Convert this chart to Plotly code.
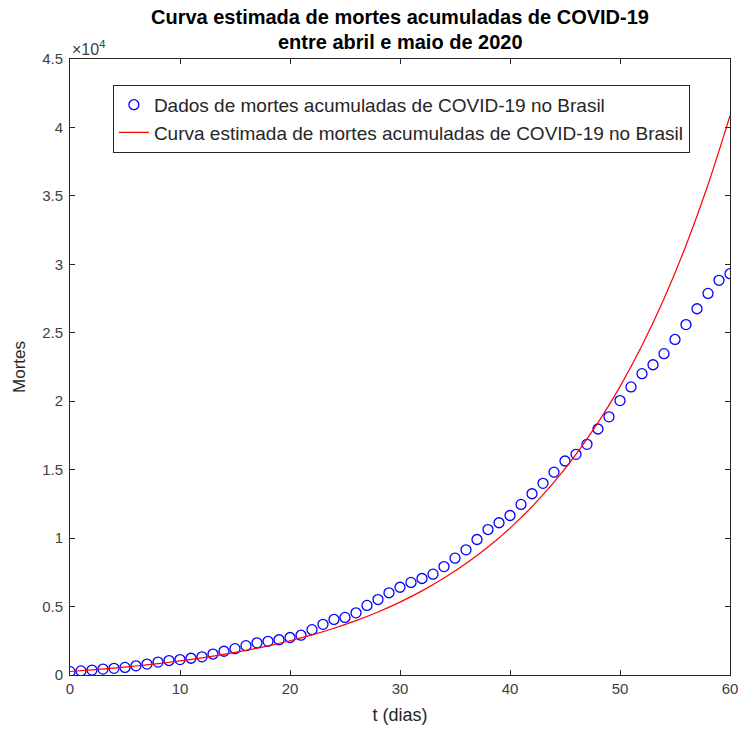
import plotly.graph_objects as go

# Accumulated COVID-19 deaths in Brazil, day 0 = 1 April 2020
dias = list(range(0, 61))
mortes = [
    241, 299, 359, 431, 486, 553, 667, 800, 941, 1056,
    1124, 1223, 1328, 1532, 1736, 1924, 2141, 2347, 2462, 2575,
    2741, 2906, 3313, 3704, 4057, 4205, 4543, 5083, 5513, 6006,
    6412, 6761, 7051, 7367, 7921, 8536, 9146, 9897, 10627, 11123,
    11653, 12461, 13240, 13999, 14817, 15633, 16118, 16853, 17971, 18859,
    20047, 21048, 22013, 22666, 23473, 24512, 25598, 26754, 27878, 28834,
    29314,
]

# Estimated curve, sampled every 2 days
dias_curva = list(range(0, 61, 2))
mortes_curva = [
    255, 372, 505, 657, 830, 1026, 1250, 1505, 1795, 2126,
    2502, 2930, 3418, 3973, 4606, 5325, 6145, 7078, 8141, 9351,
    10729, 12297, 14083, 16117, 18432, 21068, 24070, 27487, 31379, 35809,
    40854,
]

x_ticks = [0, 10, 20, 30, 40, 50, 60]
y_ticks = [0, 5000, 10000, 15000, 20000, 25000, 30000, 35000, 40000, 45000]
y_tick_text = ["0", "0.5", "1", "1.5", "2", "2.5", "3", "3.5", "4", "4.5"]

FONT = "Liberation Sans, Arial, Helvetica, sans-serif"
AXIS_COLOR = "#262626"

fig = go.Figure()

fig.add_trace(go.Scatter(
    x=dias, y=mortes, mode="markers",
    name="Dados de mortes acumuladas de COVID-19 no Brasil",
    marker=dict(symbol="circle-open", size=10, color="#0000FF",
                line=dict(width=1.3, color="#0000FF")),
))
fig.add_trace(go.Scatter(
    x=dias_curva, y=mortes_curva, mode="lines",
    name="Curva estimada de mortes acumuladas de COVID-19 no Brasil",
    line=dict(color="#FF0000", width=1.2, shape="spline"),
))

axis_common = dict(
    showline=True, linecolor=AXIS_COLOR, linewidth=1, mirror="allticks",
    ticks="inside", ticklen=5, tickwidth=1, tickcolor=AXIS_COLOR,
    showgrid=False, zeroline=False, automargin=False,
    ticklabeloverflow="allow",
    tickfont=dict(family=FONT, size=15, color="#404040"),
)

fig.update_xaxes(
    range=[0, 60], tickvals=x_ticks,
    title=dict(text="t (dias)", font=dict(family=FONT, size=18, color=AXIS_COLOR), standoff=12),
    **axis_common,
)
fig.update_yaxes(
    range=[0, 45000], tickvals=y_ticks, ticktext=y_tick_text,
    ticklabelstandoff=3,
    title=dict(text="Mortes", font=dict(family=FONT, size=17, color=AXIS_COLOR), standoff=12),
    **axis_common,
)

fig.update_layout(
    width=738, height=731,
    margin=dict(l=70, r=8, t=59, b=56),
    paper_bgcolor="white", plot_bgcolor="white",
    font=dict(family=FONT, color=AXIS_COLOR),
    showlegend=True,
    legend=dict(
        x=0.065, y=0.958, xanchor="left", yanchor="top",
        bgcolor="white", bordercolor=AXIS_COLOR, borderwidth=1,
        font=dict(family=FONT, size=19, color=AXIS_COLOR),
        itemwidth=30,
    ),
    annotations=[
        dict(text="<b>Curva estimada de mortes acumuladas de COVID-19</b>",
             xref="paper", yref="paper", x=0.5, y=1, yshift=42,
             showarrow=False, xanchor="center", yanchor="middle",
             font=dict(family=FONT, size=20, color="black")),
        dict(text="<b>entre abril e maio de 2020</b>",
             xref="paper", yref="paper", x=0.5, y=1, yshift=17,
             showarrow=False, xanchor="center", yanchor="middle",
             font=dict(family=FONT, size=20, color="black")),
        dict(text="\u00d710<sup>4</sup>",
             xref="paper", yref="paper", x=0, y=1, yshift=11,
             showarrow=False, xanchor="left", yanchor="middle",
             font=dict(family=FONT, size=16, color="#404040")),
    ],
)

fig.write_html("out.html")
